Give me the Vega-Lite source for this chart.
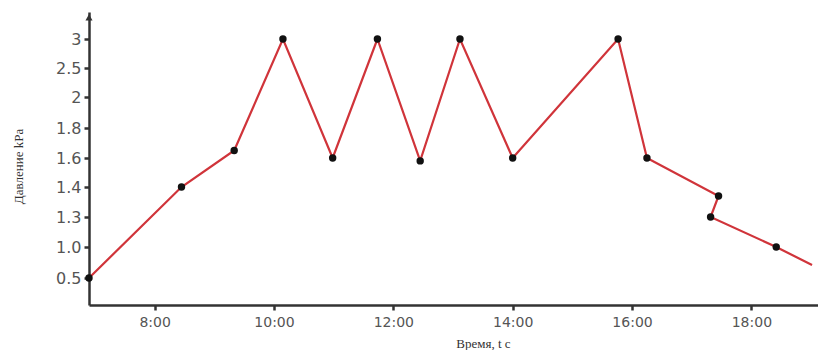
{
  "$schema": "https://vega.github.io/schema/vega-lite/v6.json",
  "width": 729,
  "height": 293,
  "autosize": "none",
  "padding": {"left": 89, "top": 12, "right": 0, "bottom": 45},
  "background": "white",
  "config": {"view": {"stroke": null}, "axis": {"grid": false}},
  "datasets": {
    "pressure": [
      {"step": 1, "time": "2024-01-01T06:54", "kpa": 0.5, "marker": true},
      {"step": 2, "time": "2024-01-01T08:27", "kpa": 1.4, "marker": true},
      {"step": 3, "time": "2024-01-01T09:20", "kpa": 1.65, "marker": true},
      {"step": 4, "time": "2024-01-01T10:09", "kpa": 3.0, "marker": true},
      {"step": 5, "time": "2024-01-01T10:59", "kpa": 1.6, "marker": true},
      {"step": 6, "time": "2024-01-01T11:44", "kpa": 3.0, "marker": true},
      {"step": 7, "time": "2024-01-01T12:27", "kpa": 1.58, "marker": true},
      {"step": 8, "time": "2024-01-01T13:07", "kpa": 3.0, "marker": true},
      {"step": 9, "time": "2024-01-01T14:00", "kpa": 1.6, "marker": true},
      {"step": 10, "time": "2024-01-01T15:46", "kpa": 3.0, "marker": true},
      {"step": 11, "time": "2024-01-01T16:15", "kpa": 1.6, "marker": true},
      {"step": 12, "time": "2024-01-01T17:27", "kpa": 1.37, "marker": true},
      {"step": 13, "time": "2024-01-01T17:19", "kpa": 1.3, "marker": true},
      {"step": 14, "time": "2024-01-01T18:25", "kpa": 1.0, "marker": true},
      {"step": 15, "time": "2024-01-01T19:01", "kpa": 0.71, "marker": false}
    ],
    "arrow": [
      {"time": "2024-01-01T06:54", "kpa": 3.4}
    ]
  },
  "encoding": {
    "x": {
      "field": "time",
      "type": "temporal",
      "scale": {
        "domain": [
          {"year": 2024, "month": 1, "date": 1, "hours": 6, "minutes": 54},
          {"year": 2024, "month": 1, "date": 1, "hours": 19, "minutes": 7}
        ],
        "nice": false
      },
      "axis": {
        "title": "Время, t c",
        "format": "%-H:%M",
        "values": [
          {"year": 2024, "month": 1, "date": 1, "hours": 8},
          {"year": 2024, "month": 1, "date": 1, "hours": 10},
          {"year": 2024, "month": 1, "date": 1, "hours": 12},
          {"year": 2024, "month": 1, "date": 1, "hours": 14},
          {"year": 2024, "month": 1, "date": 1, "hours": 16},
          {"year": 2024, "month": 1, "date": 1, "hours": 18}
        ],
        "domainColor": "#333333",
        "domainWidth": 2.5,
        "tickColor": "#333333",
        "tickWidth": 2.5,
        "tickSize": 5,
        "labelPadding": 5,
        "labelFont": "DejaVu Sans",
        "labelFontSize": 14,
        "labelColor": "#555555",
        "titleFont": "Liberation Serif",
        "titleFontSize": 13,
        "titleFontWeight": "normal",
        "titleColor": "#333333",
        "titleX": 394,
        "titleY": 38,
        "titleBaseline": "middle",
        "titleAlign": "center"
      }
    },
    "y": {
      "field": "kpa",
      "type": "quantitative",
      "scale": {
        "domain": [0.1, 0.5, 1.0, 1.3, 1.4, 1.6, 1.8, 2.0, 2.5, 3.0, 3.5],
        "range": [293, 266, 235, 205, 175, 146, 116, 85, 56, 27, 0],
        "zero": false,
        "nice": false
      },
      "axis": {
        "title": "Давление kPa",
        "values": [0.5, 1.0, 1.3, 1.4, 1.6, 1.8, 2.0, 2.5, 3.0],
        "labelExpr": "datum.value == 1 ? '1.0' : datum.value == 0.5 ? '0.5' : format(datum.value, '')",
        "domainColor": "#333333",
        "domainWidth": 2.5,
        "tickColor": "#333333",
        "tickWidth": 2.5,
        "tickSize": 5,
        "labelPadding": 3,
        "labelFont": "DejaVu Sans",
        "labelFontSize": 16,
        "labelColor": "#555555",
        "titleFont": "Liberation Serif",
        "titleFontSize": 13,
        "titleFontWeight": "normal",
        "titleColor": "#333333",
        "titleAngle": -90,
        "titleX": -71,
        "titleY": 154,
        "titleAlign": "center",
        "titleBaseline": "middle"
      }
    }
  },
  "layer": [
    {
      "data": {"name": "pressure"},
      "mark": {"type": "line", "color": "#d0343a", "strokeWidth": 2.2},
      "encoding": {"order": {"field": "step", "type": "quantitative"}}
    },
    {
      "data": {"name": "pressure"},
      "transform": [{"filter": "datum.marker"}],
      "mark": {"type": "point", "filled": true, "color": "#111111", "opacity": 1, "size": 55, "shape": "circle"}
    },
    {
      "data": {"name": "arrow"},
      "mark": {"type": "point", "filled": true, "color": "#333333", "opacity": 1, "size": 50, "shape": "triangle-up"}
    }
  ]
}
